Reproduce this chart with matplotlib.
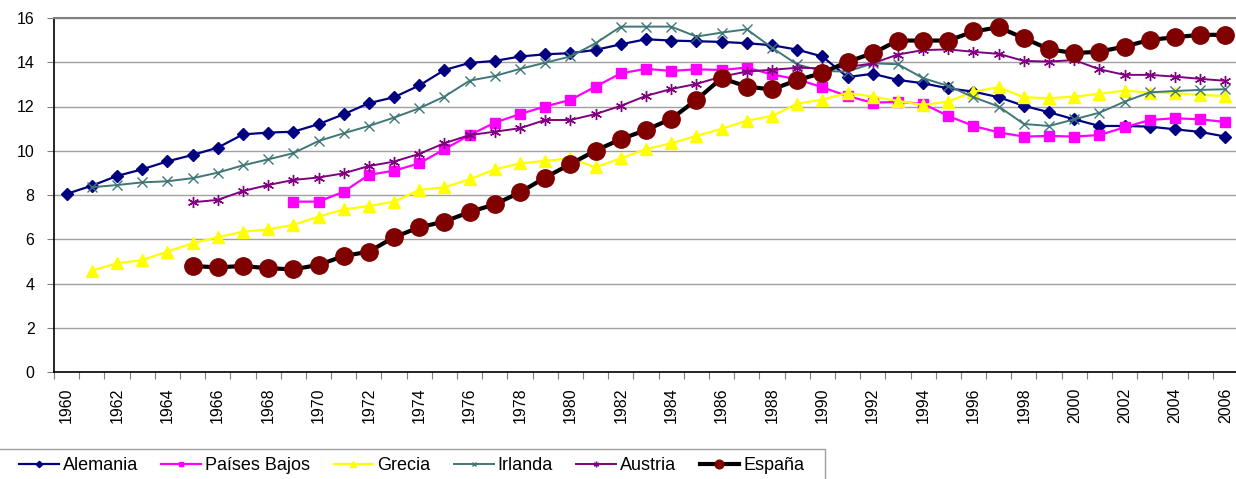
import numpy as np
import matplotlib
matplotlib.use("Agg")
import matplotlib.pyplot as plt
from matplotlib.ticker import MultipleLocator, FixedLocator
from matplotlib.patches import Rectangle

plt.rcParams['font.family'] = ['Liberation Sans', 'DejaVu Sans']

nan = np.nan
years = list(range(1960, 2007))

alemania = [8.05, 8.42, 8.86, 9.16, 9.52, 9.81, 10.14, 10.74, 10.82, 10.86,
            11.20, 11.65, 12.15, 12.42, 12.95, 13.65, 13.97, 14.06, 14.26, 14.36,
            14.41, 14.56, 14.81, 15.04, 14.98, 14.95, 14.92, 14.86, 14.77, 14.57,
            14.26, 13.33, 13.48, 13.20, 13.05, 12.82, 12.67, 12.42, 12.03, 11.74,
            11.42, 11.12, 11.12, 11.09, 10.97, 10.85, 10.64]
paises_bajos = [nan]*9 + [7.70,
            7.70, 8.15, 8.91, 9.10, 9.43, 10.07, 10.71, 11.27, 11.66, 12.00,
            12.30, 12.90, 13.50, 13.70, 13.61, 13.68, 13.65, 13.76, 13.45, 13.23,
            12.87, 12.47, 12.17, 12.21, 12.12, 11.57, 11.12, 10.83, 10.64, 10.67,
            10.64, 10.71, 11.06, 11.39, 11.47, 11.42, 11.30]
grecia = [nan, 4.58, 4.91, 5.06, 5.44, 5.82, 6.09, 6.34, 6.45, 6.65,
          7.02, 7.35, 7.50, 7.70, 8.23, 8.35, 8.71, 9.16, 9.43, 9.54,
          9.66, 9.25, 9.66, 10.07, 10.34, 10.67, 10.99, 11.36, 11.57, 12.13,
          12.31, 12.61, 12.45, 12.25, 12.07, 12.22, 12.67, 12.87, 12.42, 12.37,
          12.45, 12.57, 12.72, 12.63, 12.60, 12.52, 12.48]
irlanda = [nan, 8.35, 8.45, 8.57, 8.62, 8.76, 9.01, 9.34, 9.61, 9.89,
           10.44, 10.79, 11.12, 11.50, 11.92, 12.45, 13.17, 13.38, 13.70, 13.98,
           14.26, 14.86, 15.61, 15.61, 15.61, 15.16, 15.34, 15.49, 14.66, 13.90,
           13.60, 13.58, 13.95, 13.91, 13.28, 12.93, 12.42, 12.00, 11.21, 11.12,
           11.42, 11.72, 12.22, 12.64, 12.70, 12.75, 12.78]
austria = [nan]*5 + [7.67, 7.78, 8.18, 8.45, 8.68,
           8.79, 8.98, 9.31, 9.51, 9.86, 10.34, 10.71, 10.86, 11.02, 11.39,
           11.39, 11.66, 12.03, 12.48, 12.79, 13.02, 13.35, 13.58, 13.66, 13.75,
           13.73, 13.78, 13.95, 14.35, 14.55, 14.58, 14.47, 14.38, 14.06, 14.03,
           14.10, 13.68, 13.43, 13.43, 13.35, 13.25, 13.16]
espana = [nan]*5 + [4.79, 4.73, 4.79, 4.69, 4.64,
          4.84, 5.24, 5.44, 6.09, 6.54, 6.80, 7.23, 7.58, 8.12, 8.79,
          9.40, 10.01, 10.52, 10.94, 11.44, 12.30, 13.28, 12.90, 12.77, 13.19,
          13.52, 14.02, 14.41, 14.98, 14.98, 14.98, 15.39, 15.58, 15.09, 14.59,
          14.41, 14.48, 14.71, 15.01, 15.13, 15.24, 15.24]

fig = plt.figure(figsize=(12.36, 4.79), dpi=100)
ax = fig.add_axes([54/1236, 1 - 372/479, 1184/1236, 354/479])

x = np.arange(len(years))

ax.plot(x, alemania, color='#000080', lw=1.6, marker='D', ms=6.5,
        label='Alemania', zorder=3)
ax.plot(x, paises_bajos, color='#ff00ff', lw=1.6, marker='s', ms=7,
        label='Países Bajos', zorder=3)
ax.plot(x, grecia, color='#ffff00', lw=1.6, marker='^', ms=8,
        label='Grecia', zorder=3)
ax.plot(x, irlanda, color='#3f7777', lw=1.4, marker='x', ms=7, mew=1,
        label='Irlanda', zorder=3)
ax.plot(x, austria, color='#800080', lw=1.4, marker=(6, 2, 0), ms=8, mew=1,
        label='Austria', zorder=3)
ax.plot(x, espana, color='black', lw=3, marker='o', ms=12.5,
        mfc='#800000', mec='#800000', label='España', zorder=4)

ax.set_xlim(-0.5, len(years) - 0.5)
ax.set_ylim(0, 16)
ax.yaxis.set_major_locator(MultipleLocator(2))
ax.grid(axis='y', color='#a0a0a0', lw=1)
ax.set_axisbelow(True)

ax.set_xticks(x[::2])
ax.set_xticklabels([str(y) for y in years[::2]], rotation=90)
ax.xaxis.set_minor_locator(FixedLocator(np.arange(-0.5, len(years), 1)))
ax.tick_params(axis='x', which='major', length=0, pad=11, labelsize=11.5)
ax.tick_params(axis='x', which='minor', length=5, width=0.8, color='#808080')
ax.tick_params(axis='y', length=5, width=0.8, color='#808080',
               labelsize=11.5, pad=9)

for s in ['left', 'bottom']:
    ax.spines[s].set_color('black')
    ax.spines[s].set_linewidth(1.2)
ax.spines['top'].set_color('#808080')
ax.spines['top'].set_linewidth(1.5)
ax.spines['right'].set_visible(False)

# legend box along the bottom edge
fig.patches.append(Rectangle((-2/1236, -0.02), 827/1236, 0.02 + 30/479,
                             transform=fig.transFigure, fill=False,
                             edgecolor='#a0a0a0', lw=1))
leg = fig.legend(loc='center left', bbox_to_anchor=(19/1236, 1 - 466/479),
                 ncol=6, frameon=False, fontsize=13, handlelength=2.2,
                 handletextpad=0.22, columnspacing=1.3, borderpad=0,
                 borderaxespad=0, markerscale=0.5)

fig.savefig('out.png', dpi=100)
